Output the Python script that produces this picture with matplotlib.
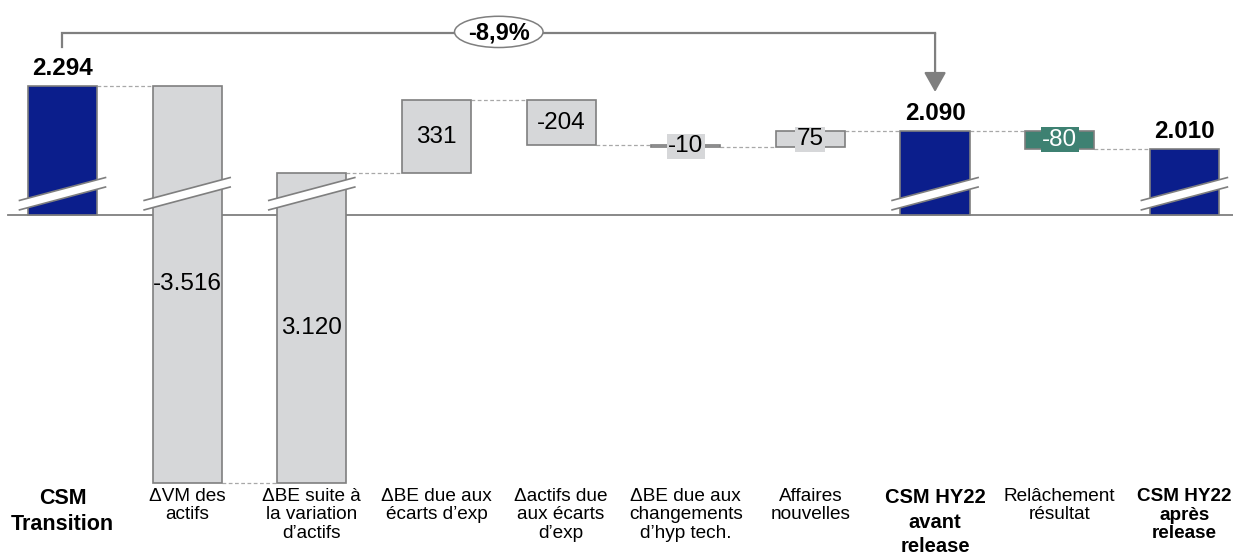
import numpy as np
import matplotlib
matplotlib.use("Agg")
import matplotlib.pyplot as plt
from matplotlib.patches import Polygon, Ellipse
from matplotlib.transforms import blended_transform_factory

plt.rcParams["font.family"] = ["Liberation Sans", "DejaVu Sans"]

# ---- data -------------------------------------------------------------
categories = [
    "CSM\nTransition",
    "\u0394VM des\nactifs",
    "\u0394BE suite à\nla variation\nd\u2019actifs",
    "\u0394BE due aux\nécarts d\u2019exp",
    "\u0394actifs due\naux écarts\nd\u2019exp",
    "\u0394BE due aux\nchangements\nd\u2019hyp tech.",
    "Affaires\nnouvelles",
    "CSM HY22\navant\nrelease",
    "Relâchement\nrésultat",
    "CSM HY22\naprès\nrelease",
]
kinds = ["total", "delta", "delta", "delta", "delta", "delta", "delta",
         "total", "release", "total"]
values = [2294, -3516, 3120, 331, -204, -10, 75, 2090, -80, 2010]

# ---- styling ------------------------------------------------------------
NAVY = "#0b1e8c"
GREY_FILL = "#d6d7d9"
EDGE = "#7f7f7f"
GREEN = "#3e8172"
CONNECTOR = "#a8a8a8"
BAR_W = 0.555

# broken value axis: values below BREAK are compressed
BREAK = 1708
LOW_FACTOR = 0.4157


def fwd(v):
    v = np.asarray(v, dtype=float)
    return np.where(v >= BREAK, v - BREAK, (v - BREAK) * LOW_FACTOR)


def inv(u):
    u = np.asarray(u, dtype=float)
    return np.where(u >= 0, u + BREAK, u / LOW_FACTOR + BREAK)


def fmt(v):
    s = f"{abs(v):,.0f}".replace(",", ".")
    return ("-" if v < 0 else "") + s


fig = plt.figure(figsize=(12.33, 5.54), dpi=100)
ax = fig.add_axes([0, 0, 1, 1])
ax.set_yscale("function", functions=(fwd, inv))
ax.set_xlim(-0.5013, 9.39)
ax.set_ylim(-1999, 2685)
ax.axis("off")

# base line of the broken axis
ax.plot([-0.44, 9.39], [BREAK, BREAK], color=EDGE, lw=1.3, zorder=1)

x = np.arange(len(values))
bottoms, tops, ends = [], [], []
level = 0
for k, v in zip(kinds, values):
    if k == "total":
        bottoms.append(BREAK)
        tops.append(v)
        level = v
    else:
        start, level = level, level + v
        bottoms.append(min(start, level))
        tops.append(max(start, level))
    ends.append(level)

colors = [NAVY if k == "total" else (GREEN if k == "release" else GREY_FILL)
          for k in kinds]
heights = np.array(tops) - np.array(bottoms)
ax.bar(x, heights, bottom=bottoms, width=BAR_W, color=colors,
       edgecolor=EDGE, linewidth=1.2, zorder=3)

# dashed connectors between consecutive bars
for i in range(len(values) - 1):
    ax.plot([x[i] + BAR_W / 2, x[i + 1] - BAR_W / 2], [ends[i], ends[i]],
            color=CONNECTOR, lw=0.9, ls=(0, (3, 2)), zorder=2)

# break marks on bars that cross the base line
half = 0.345
for i in range(len(values)):
    if bottoms[i] <= BREAK:
        c = x[i]
        lo_l, hi_l, lo_r, hi_r = BREAK + 23, BREAK + 66, BREAK + 127, BREAK + 170
        ax.add_patch(Polygon([(c - half, lo_l), (c + half, lo_r),
                              (c + half, hi_r), (c - half, hi_l)],
                             closed=True, fc="white", ec="none", zorder=4))
        ax.plot([c - half, c + half], [lo_l, lo_r], color=EDGE, lw=1.2, zorder=5)
        ax.plot([c - half, c + half], [hi_l, hi_r], color=EDGE, lw=1.2, zorder=5)

# value labels
for i, (k, v) in enumerate(zip(kinds, values)):
    if k == "total":
        ax.text(x[i], tops[i] + 48, fmt(v), ha="center", va="baseline",
                fontsize=17.5, fontweight="bold", zorder=6)
    else:
        mid = float(inv((fwd(bottoms[i]) + fwd(tops[i])) / 2))
        fc = GREEN if k == "release" else GREY_FILL
        tc = "white" if k == "release" else "black"
        thin = fwd(tops[i]) - fwd(bottoms[i]) < 120
        box = dict(boxstyle="square,pad=0.06", fc=fc, ec="none") if thin else None
        ax.text(x[i], mid, fmt(v), ha="center", va="center", fontsize=17.5,
                color=tc, zorder=6, bbox=box)

# overall change bracket
first, last = 0, 7
change = (values[last] - values[first]) / values[first] * 100
bracket_y = values[first] + 241
ax.plot([x[first], x[first], x[last]],
        [values[first] + 177, bracket_y, bracket_y],
        color=EDGE, lw=1.6, zorder=2, solid_joinstyle="miter")
ax.annotate("", xy=(x[last], values[last] + 177), xytext=(x[last], bracket_y),
            arrowprops=dict(arrowstyle="-|>,head_length=0.8,head_width=0.45",
                            color=EDGE, lw=1.6, shrinkA=0, shrinkB=0,
                            mutation_scale=15))
mid_x = (x[first] + x[last]) / 2
ax.add_patch(Ellipse((mid_x, bracket_y + 5), width=0.71, height=142,
                     fc="white", ec=EDGE, lw=1.1, zorder=5))
ax.text(mid_x, bracket_y, f"{change:.1f}%".replace(".", ","),
        ha="center", va="center", fontsize=17, fontweight="bold", zorder=6)

# category labels
trans = blended_transform_factory(ax.transData, ax.transAxes)
label_style = {0: (15.5, "bold", 1.3), 7: (14.5, "bold", 1.37),
               9: (13.6, "bold", 1.12)}
for i, lab in enumerate(categories):
    size, weight, ls = label_style.get(i, (13.7, "normal", 1.1))
    ax.text(x[i], 1 - 488 / 554, lab, transform=trans, ha="center",
            va="top", fontsize=size, fontweight=weight, linespacing=ls)

fig.savefig("out.png", dpi=100)
